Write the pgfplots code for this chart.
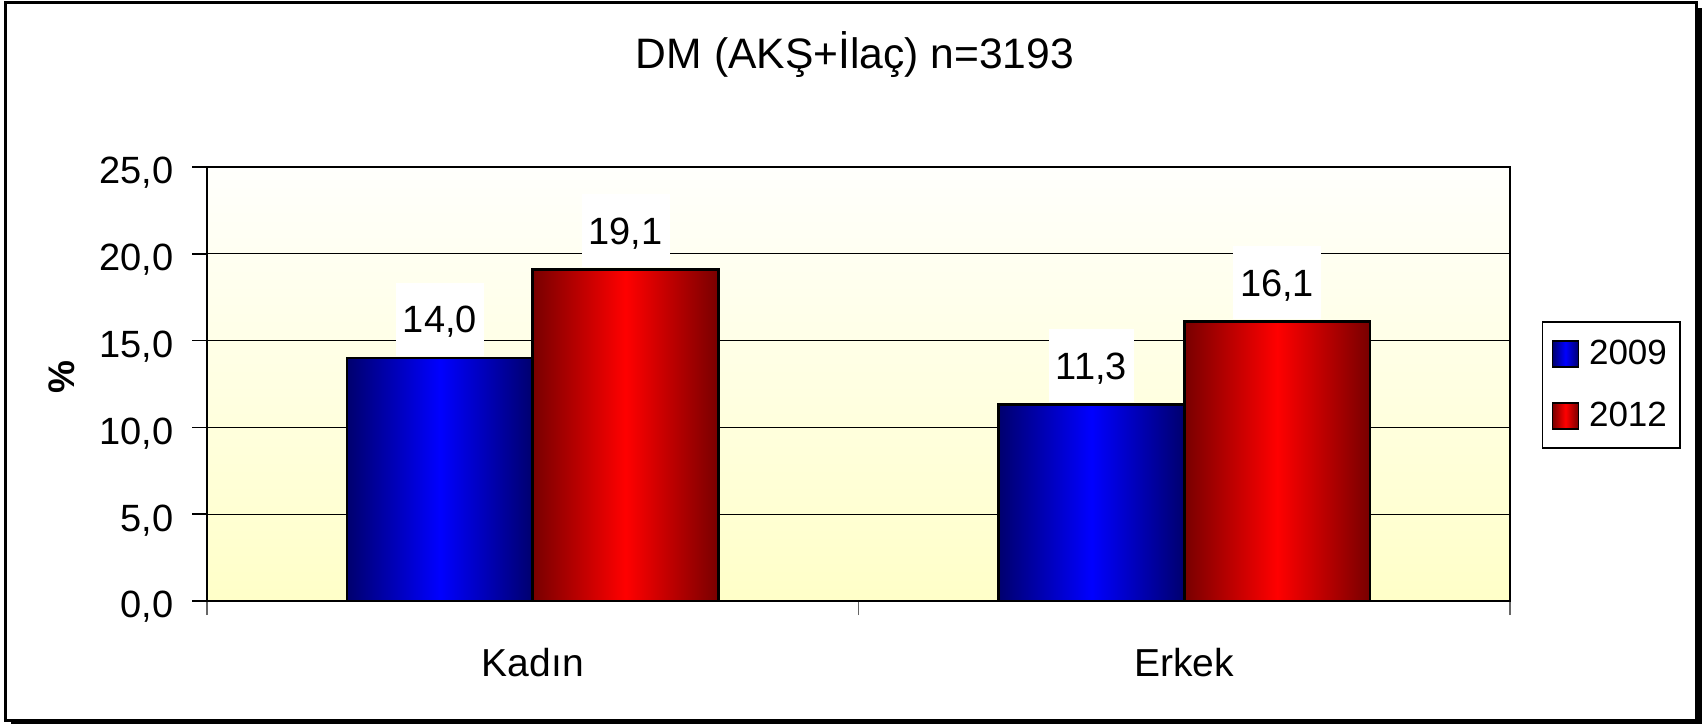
\documentclass[border=0pt]{standalone}
\usepackage{pgfplots}
\pgfplotsset{compat=1.18}
\usepackage{fontspec}
\setmainfont{Liberation Sans}
\definecolor{navyb}{RGB}{0,0,110}
\definecolor{brightb}{RGB}{0,0,255}
\definecolor{darkr}{RGB}{120,0,0}
\definecolor{brightr}{RGB}{255,0,0}
\definecolor{bgtop}{RGB}{255,255,252}
\definecolor{bgbot}{RGB}{255,255,200}
\begin{document}
\begin{tikzpicture}[x=1pt,y=1pt]
\useasboundingbox (0,0) rectangle (853.5,362.5);
\fill[black] (5.5,0.5) rectangle (851,358.5);
\filldraw[fill=white, draw=black, line width=1.5pt] (2.75,2.5) rectangle (848,361.25);
\begin{axis}[
  at={(103.5pt,62pt)}, anchor=south west,
  scale only axis, width=651.5pt, height=217pt,
  xmin=-0.5, xmax=1.5, ymin=0, ymax=25,
  xtick={0,1}, xticklabels={Kadın,Erkek},
  minor xtick={-0.5,0.5,1.5},
  ytick={0,5,10,15,20,25},
  tick pos=left, tick align=outside,
  major tick length=7.5pt, minor tick length=7pt,
  major x tick style={draw=none},
  minor x tick style={draw=gray!80!black, line width=0.9pt},
  major y tick style={draw=black, line width=0.75pt},
  axis line style={black, line width=0.75pt},
  ymajorgrids, major grid style={black, line width=0.6pt},
  axis background/.style={top color=bgtop, bottom color=bgbot},
  tick label style={font=\fontsize{19}{22}\selectfont},
  /pgf/number format/assume math mode=true,
  yticklabel style={/pgf/number format/.cd, fixed, fixed zerofill, precision=1, use comma, /tikz/.cd, inner sep=0pt, xshift=-9pt, yshift=-3pt},
  xticklabel style={anchor=north, inner sep=0pt, yshift=-16pt, font=\fontsize{19.5}{22}\selectfont},
  title={DM (AKŞ+İlaç) n=3193},
  title style={at={(0.4973,1.1995)}, anchor=base, font=\fontsize{21.3}{25}\selectfont},
  ylabel={\%},
  ylabel style={at={(axis description cs:-0.1113,0.516)}, anchor=center, font=\bfseries\fontsize{18.5}{22}\selectfont},
  nodes near coords={\pgfmathprintnumber[fixed,fixed zerofill,precision=1,use comma,assume math mode=true]{\pgfplotspointmeta}},
  every node near coord/.append style={fill=white, anchor=south, inner xsep=3.5pt, inner ysep=0pt, text height=25pt, text depth=11.5pt, font=\fontsize{19}{22}\selectfont, yshift=0.5pt},
  legend style={at={(1.0246,0.4977)}, anchor=west, draw=black, line width=0.6pt, fill=white,
    font=\fontsize{17.5}{20}\selectfont, inner xsep=4.5pt, inner ysep=7pt, row sep=13.5pt},
  legend cell align=left,
]
\addplot[ybar, bar width=0.285, bar shift=-0.1425, draw=black, line width=1.4pt,
  left color=navyb, right color=navyb, middle color=brightb, forget plot,
  every node near coord/.append style={xshift=-46.4pt}] coordinates {(0,14.0)};
\addplot[ybar, bar width=0.285, bar shift=0.1425, draw=black, line width=1.4pt,
  left color=darkr, right color=darkr, middle color=brightr, forget plot,
  every node near coord/.append style={xshift=46.4pt}] coordinates {(0,19.1)};
\addplot[ybar, bar width=0.285, bar shift=-0.1425, draw=black, line width=1.4pt,
  left color=navyb, right color=navyb, middle color=brightb, forget plot,
  every node near coord/.append style={xshift=-46.4pt}] coordinates {(1,11.3)};
\addplot[ybar, bar width=0.285, bar shift=0.1425, draw=black, line width=1.4pt,
  left color=darkr, right color=darkr, middle color=brightr, forget plot,
  every node near coord/.append style={xshift=46.4pt}] coordinates {(1,16.1)};
\addlegendimage{legend image code/.code={\draw[black, line width=0.8pt, left color=navyb, right color=navyb, middle color=brightb] (0pt,-6.5pt) rectangle (13pt,6.5pt); \path (16pt,0pt);}}
\addlegendentry{2009}
\addlegendimage{legend image code/.code={\draw[black, line width=0.8pt, left color=darkr, right color=darkr, middle color=brightr] (0pt,-6.5pt) rectangle (13pt,6.5pt); \path (16pt,0pt);}}
\addlegendentry{2012}
\end{axis}
\end{tikzpicture}
\end{document}
